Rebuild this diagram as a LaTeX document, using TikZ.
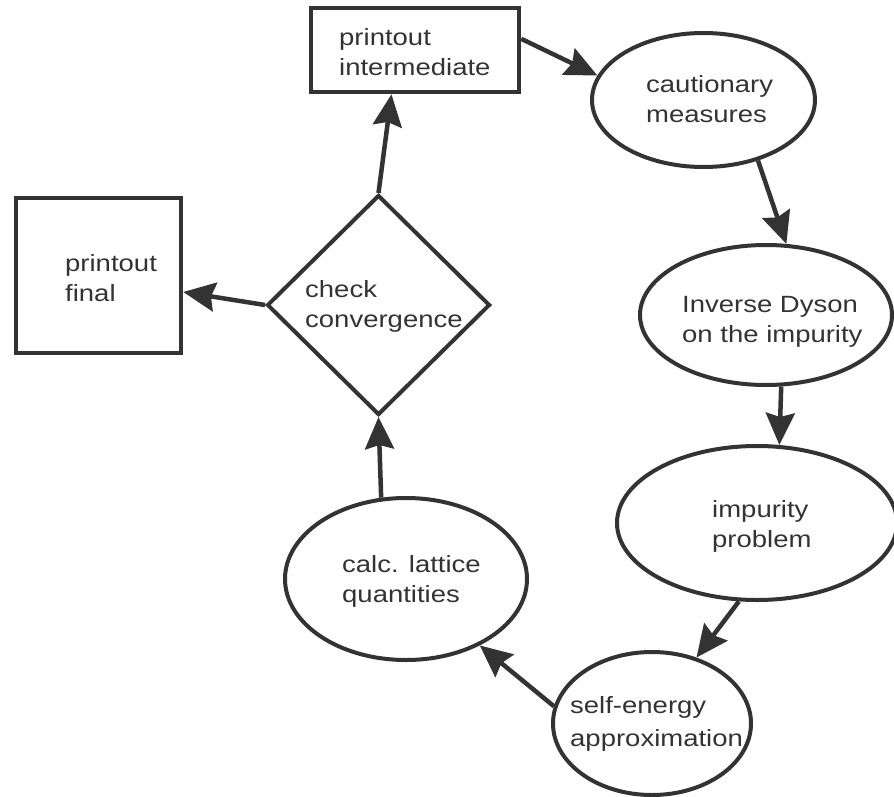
\documentclass[tikz,border=0pt]{standalone}
\usepackage{fontspec}
\setmainfont{Liberation Sans}[FakeStretch=1.17]
\usetikzlibrary{shapes.geometric,arrows.meta}
\definecolor{ink}{RGB}{51,51,51}
\begin{document}
\begin{tikzpicture}[x=1pt,y=-1pt,
  boxnode/.style={draw=ink, line width=4.5pt, rectangle, inner sep=0pt},
  oval/.style={draw=ink, line width=4pt, ellipse, inner sep=0pt},
  decision/.style={draw=ink, line width=4pt, diamond, inner sep=0pt},
  lbl/.style={text=ink, align=left, anchor=west, inner sep=0pt,
              font=\fontsize{23.5}{30}\selectfont},
  flow/.style={draw=ink, line width=4.5pt,
               -{Stealth[length=32pt,width=29pt,inset=4pt]}},
]
\useasboundingbox (0,0) rectangle (894,797);

% shapes
\node[boxnode, minimum width=208pt, minimum height=84pt]  (inter) at (415,50) {};
\node[boxnode, minimum width=165pt, minimum height=155pt] (final) at (98.5,275.5) {};
\node[oval, minimum width=223pt, minimum height=134pt] (caut)  at (703.5,100) {};
\node[oval, minimum width=252pt, minimum height=140pt] (dyson) at (766,315) {};
\node[oval, minimum width=280pt, minimum height=154pt] (imp)   at (757,523) {};
\node[oval, minimum width=198pt, minimum height=143pt] (self)  at (652,723.5) {};
\node[oval, minimum width=242pt, minimum height=162pt] (calc)  at (406,579) {};
\node[decision, minimum width=223pt, minimum height=220pt] (check) at (378.5,305) {};

% labels
\node[lbl] (interT) at (339,52)   {printout\\intermediate};
\node[lbl] (finalT) at (65,278)   {printout\\final};
\node[lbl] (cautT)  at (646,99)   {cautionary\\measures};
\node[lbl] (dysonT) at (682,322)  {Inverse Dyson\\on the impurity};
\node[lbl] (impT)   at (712,526)  {impurity\\problem};
\node[lbl, font=\fontsize{23.5}{33}\selectfont] (selfT) at (570,723.5) {self-energy\\approximation};
\node[lbl] (calcT)  at (342,581)  {calc. lattice\\quantities};
\node[lbl] (checkT) at (305,306)  {check\\convergence};

% connectors
\draw[flow] (inter.6.5)   -- (caut.167.6);
\draw[flow] (caut.-48.4)  -- (dyson.74);
\draw[flow] (dyson.-78.7) -- (imp.74.7);
\draw[flow] (imp.257)     -- (self.56.5);
\draw[flow] (self.170)    -- (calc.-42.6);
\draw[flow] (calc.107.8)  -- (check.south);
\draw[flow] (check.north) -- (inter.242.4);
\draw[flow] (check.west)  -- (final.-11.3);
\end{tikzpicture}
\end{document}
